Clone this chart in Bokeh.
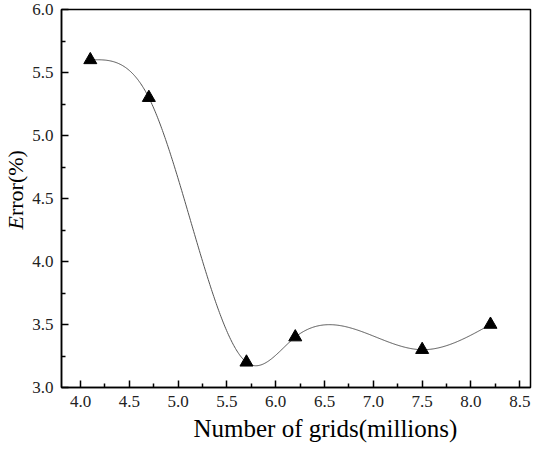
import numpy as np
from bokeh.plotting import figure
from bokeh.layouts import row
from bokeh.models import Range1d, FixedTicker, NumeralTickFormatter, Title
from bokeh.core.properties import value
from bokeh.embed import file_html
from bokeh.resources import INLINE

grids = [4.1, 4.7, 5.7, 6.2, 7.5, 8.2]
error = [5.6, 5.3, 3.2, 3.4, 3.3, 3.5]
x_ticks = [4.0, 4.5, 5.0, 5.5, 6.0, 6.5, 7.0, 7.5, 8.0, 8.5]
y_ticks = [3.0, 3.5, 4.0, 4.5, 5.0, 5.5, 6.0]
x_label = "Number of grids(millions)"
y_label_italic = "E"
y_label_rest = "rror(%)"


def natural_spline(x, y, n=500):
    x = np.asarray(x, float)
    y = np.asarray(y, float)
    m = len(x)
    h = np.diff(x)
    A = np.zeros((m, m))
    r = np.zeros(m)
    A[0, 0] = 1.0
    A[-1, -1] = 1.0
    for i in range(1, m - 1):
        A[i, i - 1] = h[i - 1]
        A[i, i] = 2 * (h[i - 1] + h[i])
        A[i, i + 1] = h[i]
        r[i] = 3 * ((y[i + 1] - y[i]) / h[i] - (y[i] - y[i - 1]) / h[i - 1])
    c = np.linalg.solve(A, r)
    b = (y[1:] - y[:-1]) / h - h * (2 * c[:-1] + c[1:]) / 3
    d = (c[1:] - c[:-1]) / (3 * h)
    xs = np.linspace(x[0], x[-1], n)
    idx = np.clip(np.searchsorted(x, xs) - 1, 0, m - 2)
    t = xs - x[idx]
    ys = y[idx] + b[idx] * t + c[idx] * t ** 2 + d[idx] * t ** 3
    return xs, ys


sx, sy = natural_spline(grids, error)

FONT = "Liberation Serif"
H = 452
TOP, BOTTOM = 9, 65
LW = 28  # width of the y-label strip

# y-axis title strip (mixed italic / roman text)
lab = figure(width=LW, height=H, output_backend="svg", toolbar_location=None,
             x_range=Range1d(0, LW), y_range=Range1d(3.0, 6.0),
             x_axis_type=None, y_axis_type=None,
             min_border_left=0, min_border_right=0, min_border_top=TOP, min_border_bottom=BOTTOM)
lab.grid.visible = False
lab.outline_line_color = None
lab.background_fill_color = "white"
lab.border_fill_color = "white"
y_start = 4.254
e_adv = 22 * 0.611 / 126.0
lab.text(x=[15], y=[y_start], text=[y_label_italic], angle=np.pi / 2, text_align="left",
         text_baseline="alphabetic", text_font=value(FONT), text_font_style="italic",
         text_font_size="22px", text_color="black")
lab.text(x=[15], y=[y_start + e_adv], text=[y_label_rest], angle=np.pi / 2, text_align="left",
         text_baseline="alphabetic", text_font=value(FONT), text_font_style="normal",
         text_font_size="22px", text_color="black")

x0, x1 = 3.805, 8.61
p = figure(width=534 - LW, height=H, output_backend="svg", toolbar_location=None,
           x_range=Range1d(x0, x1), y_range=Range1d(3.0, 6.0),
           min_border_left=61 - LW, min_border_right=4, min_border_top=TOP, min_border_bottom=BOTTOM)
p.grid.visible = False
p.outline_line_color = "black"
p.outline_line_width = 1.5
p.background_fill_color = "white"
p.border_fill_color = "white"

p.line(sx, sy, line_color="#555555", line_width=1)
p.scatter(grids, error, marker="triangle", size=13, fill_color="black", line_color="black")

p.axis.axis_line_width = 1.5
p.axis.axis_line_color = "black"
p.axis.major_tick_in = 7
p.axis.major_tick_out = 0
p.axis.minor_tick_in = 4
p.axis.minor_tick_out = 0
p.axis.major_tick_line_width = 1.5
p.axis.minor_tick_line_width = 1.5
p.axis.major_label_text_font = FONT
p.axis.major_label_text_font_size = "17px"
p.axis.major_label_text_font_style = "normal"
p.axis.major_label_text_color = "#222222"
p.axis.major_label_standoff = 8
p.axis.formatter = NumeralTickFormatter(format="0.0")

p.xaxis.ticker = FixedTicker(ticks=x_ticks, minor_ticks=[t + 0.25 for t in x_ticks])
p.yaxis.ticker = FixedTicker(ticks=y_ticks, minor_ticks=[t + 0.25 for t in y_ticks])
p.xaxis.axis_label = None
p.yaxis.axis_label = None

p.add_layout(Title(text=x_label, align="left", offset=132, standoff=6,
                   text_font=FONT, text_font_size="25px", text_font_style="normal",
                   text_color="black"), "below")

layout = row(lab, p, spacing=0)
open("out.html", "w").write(file_html(layout, INLINE))
